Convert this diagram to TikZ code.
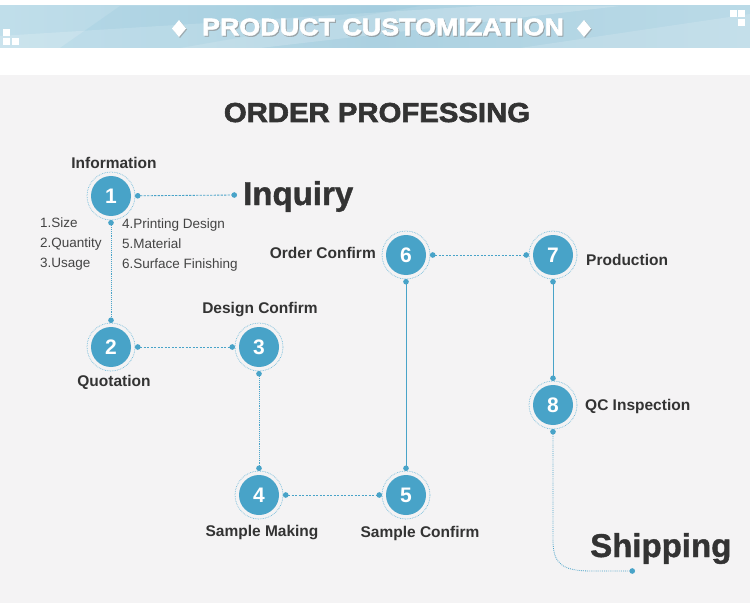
\documentclass[tikz,border=0pt]{standalone}
\usepackage{fontspec}
\setmainfont{Liberation Sans}
\newfontfamily\heavyfont[FakeBold=2.2]{Liberation Sans Bold}
\newfontfamily\semiheavy[FakeBold=1.2]{Liberation Sans Bold}
\usetikzlibrary{arrows.meta}
\definecolor{cblue}{RGB}{72,163,200}
\definecolor{cring}{RGB}{110,185,218}
\definecolor{ctext}{RGB}{51,51,51}
\definecolor{cgray}{RGB}{68,68,68}
\definecolor{bg}{RGB}{244,243,244}
\definecolor{bandL}{RGB}{192,222,234}
\definecolor{bandM}{RGB}{172,209,225}
\definecolor{bandR}{RGB}{186,218,231}
\begin{document}
\begin{tikzpicture}[x=1pt,y=-1pt,
  stepnode/.style={circle, fill=cblue, minimum size=40pt, inner sep=0pt, outer sep=4pt, text=white, font=\fontsize{21}{21}\selectfont\bfseries},
  lbl/.style={text=ctext, font=\fontsize{15.5}{18}\selectfont\bfseries, inner sep=0pt},
  small/.style={text=cgray, font=\fontsize{13.5}{20}\selectfont, inner sep=0pt, align=left},
  big/.style={text=ctext, font=\fontsize{33}{36}\selectfont\semiheavy, inner sep=0pt},
  conn/.style={cblue, line width=0.85pt, {Circle[length=5.5pt]}-{Circle[length=5.5pt]}},
  dashline/.style={conn, dash pattern=on 2.2pt off 1.3pt},
  dotline/.style={conn, dash pattern=on 0.8pt off 1.1pt},
  solidline/.style={conn},
  ring/.style={cring, line width=0.7pt, dash pattern=on 0.7pt off 1pt},
  sq/.style={fill=white}]
\useasboundingbox (0,0) rectangle (750,615);
\fill[white] (0,0) rectangle (750,615);
\fill[bg] (0,75) rectangle (750,603);
% top band
\shade[left color=bandL, right color=bandR, middle color=bandM] (0,6) rectangle (750,48);
\fill[white, opacity=0.18] (0,48) -- (0,36) -- (480,6) -- (620,6) -- (260,48) -- cycle;
\fill[white, opacity=0.15] (520,48) -- (750,14) -- (750,48) -- cycle;
\fill[cblue, opacity=0.08] (120,6) -- (420,6) -- (180,48) -- (60,48) -- cycle;
% squares
\fill[sq] (3,29) rectangle (10,36);
\fill[sq] (3,38) rectangle (10,45);
\fill[sq] (12,38) rectangle (19,45);
\fill[sq] (730,10) rectangle (737,17);
\fill[sq] (738,10) rectangle (745,17);
\fill[sq] (738,19) rectangle (745,26);
% title
\fill[black!45, opacity=0.6] (180,21) -- (187,29.5) -- (180,38) -- (173,29.5) -- cycle;
\fill[black!45, opacity=0.6] (585,21) -- (592,29.5) -- (585,38) -- (578,29.5) -- cycle;
\fill[white] (179,20) -- (186,28.5) -- (179,37) -- (172,28.5) -- cycle;
\fill[white] (584,20) -- (591,28.5) -- (584,37) -- (577,28.5) -- cycle;
\node[text=black!45, opacity=0.6, font=\fontsize{24}{24}\selectfont\heavyfont, inner sep=0pt] (titlesh) at (384,28.2) {\scalebox{1.12}[1]{PRODUCT CUSTOMIZATION}};
\node[text=white, font=\fontsize{24}{24}\selectfont\heavyfont, inner sep=0pt] (title) at (383,27) {\scalebox{1.12}[1]{PRODUCT CUSTOMIZATION}};
% heading
\node[text=ctext, font=\fontsize{27.4}{30}\selectfont\heavyfont, inner sep=0pt, anchor=base] (head) at (377,122) {\scalebox{1.07}[1]{ORDER PROFESSING}};
% steps
\node[stepnode] (n1) at (111,196) {1};
\node[stepnode] (n2) at (111,347) {2};
\node[stepnode] (n3) at (259,347) {3};
\node[stepnode] (n4) at (259,495) {4};
\node[stepnode] (n5) at (406,495) {5};
\node[stepnode] (n6) at (406,255) {6};
\node[stepnode] (n7) at (553,255) {7};
\node[stepnode] (n8) at (553,405) {8};
\foreach \n in {1,...,8} \draw[ring] (n\n.center) circle (24pt);
% big words
\node[big, anchor=base west] (inq) at (243,205) {Inquiry};
\node[big, anchor=base west] (ship) at (590,557) {Shipping};
% labels
\node[lbl] (l1) at (114,163) {Information};
\node[lbl] (l2) at (114,382) {Quotation};
\node[lbl] (l3) at (260,310) {Design Confirm};
\node[lbl] (l4) at (262,533) {Sample Making};
\node[lbl] (l5) at (420,533) {Sample Confirm};
\node[lbl, anchor=east] (l6) at (376,253) {Order Confirm};
\node[lbl, anchor=west] (l7) at (586,260) {Production};
\node[lbl, anchor=west] (l8) at (585,406) {QC Inspection};
\node[small, anchor=west] (lista) at (40,244) {1.Size\\2.Quantity\\3.Usage};
\node[small, anchor=west] (listb) at (122,245) {4.Printing Design\\5.Material\\6.Surface Finishing};
% connectors
\coordinate (inqdot) at (237,195);
\coordinate (bendA) at (553,540);
\coordinate (shipend) at (635,571);
\draw[dashline] (n1) -- (inqdot);
\draw[dotline] (n1) -- (n2);
\draw[dashline] (n2) -- (n3);
\draw[dotline] (n3) -- (n4);
\draw[dashline] (n4) -- (n5);
\draw[solidline] (n5) -- (n6);
\draw[dashline] (n6) -- (n7);
\draw[solidline] (n7) -- (n8);
\draw[dotline] (n8) -- (bendA) .. controls (553,564) and (562,571) .. (592,571) -- (shipend);
\end{tikzpicture}
\end{document}
